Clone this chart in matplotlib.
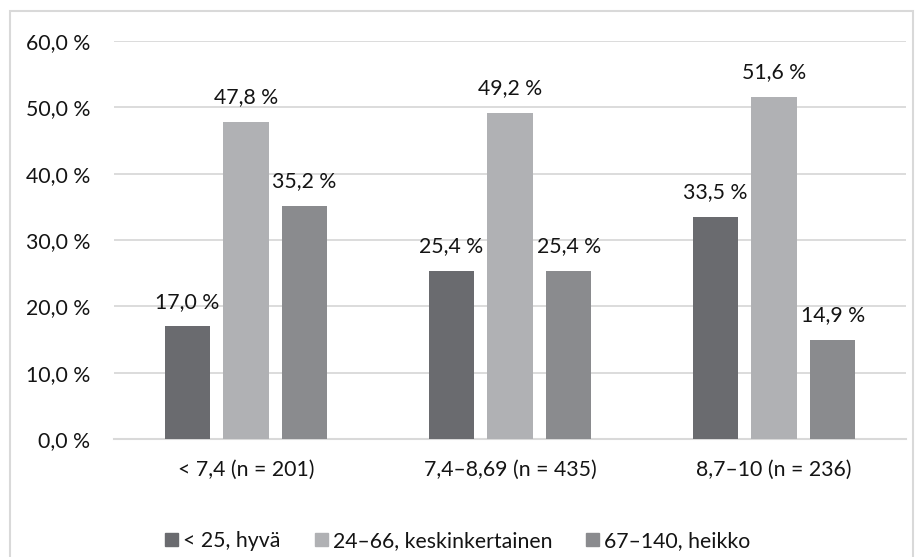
import matplotlib.pyplot as plt
import matplotlib.patches as mpatches
import numpy as np

plt.rcParams['font.family'] = ['Lato', 'DejaVu Sans']

# ryhmät ja sarjat
categories = ['< 7,4 (n = 201)', '7,4–8,69 (n = 435)', '8,7–10 (n = 236)']
series_names = ['< 25, hyvä', '24–66, keskinkertainen', '67–140, heikko']
good = [17.0, 25.4, 33.5]
medium = [47.8, 49.2, 51.6]
weak = [35.2, 25.4, 14.9]
yticks = [0, 10, 20, 30, 40, 50, 60]

colors = ['#6a6b6f', '#b0b1b4', '#8a8b8e']
txt = '#141414'
fs = 15.3

fig = plt.figure(figsize=(9.24, 5.57), dpi=100)
ax = fig.add_axes([114 / 924, 1 - 439 / 557, 792 / 924, 398 / 557])

x = np.arange(len(categories))
width = 0.172
step = 0.222

for i, (vals, col) in enumerate(zip([good, medium, weak], colors)):
    pos = x + (i - 1) * step
    ax.bar(pos, vals, width, color=col, zorder=3, label=series_names[i])
    for p, v in zip(pos, vals):
        ax.text(p, v + 2.8, f'{v:.1f} %'.replace('.', ','), ha='center', va='baseline',
                fontsize=fs, color=txt, zorder=4)

ax.set_xlim(-0.5, 2.5)
ax.set_ylim(0, 60)
ax.set_yticks(yticks)
ax.set_yticklabels([f'{t:.1f} %'.replace('.', ',') for t in yticks], fontsize=fs, color=txt)
ax.set_xticks(x)
ax.set_xticklabels(categories, fontsize=fs, color=txt)
ax.tick_params(axis='y', length=0, pad=17)
ax.tick_params(axis='x', length=0, pad=15)
ax.grid(axis='y', color='#d9d9d9', linewidth=1.3, zorder=0)
for s in ['top', 'right', 'left']:
    ax.spines[s].set_visible(False)
ax.spines['bottom'].set_color('#d9d9d9')
ax.spines['bottom'].set_linewidth(1.5)

handles = [mpatches.Patch(color=c) for c in colors]
fig.legend(handles, series_names, loc='center', bbox_to_anchor=(458 / 924, 1 - 541 / 557),
           ncol=3, frameon=False, fontsize=fs, handlelength=0.6, handleheight=0.6,
           handletextpad=0.25, columnspacing=1.6, labelcolor=txt)

# kehys kuvion ympärillä
fig.patches.append(mpatches.Rectangle((10 / 924, -0.01), 903 / 924, 1 - 11 / 557 + 0.01,
                                      transform=fig.transFigure, fill=False,
                                      edgecolor='#d9d9d9', linewidth=1.5))

fig.savefig('out.png', dpi=100)
